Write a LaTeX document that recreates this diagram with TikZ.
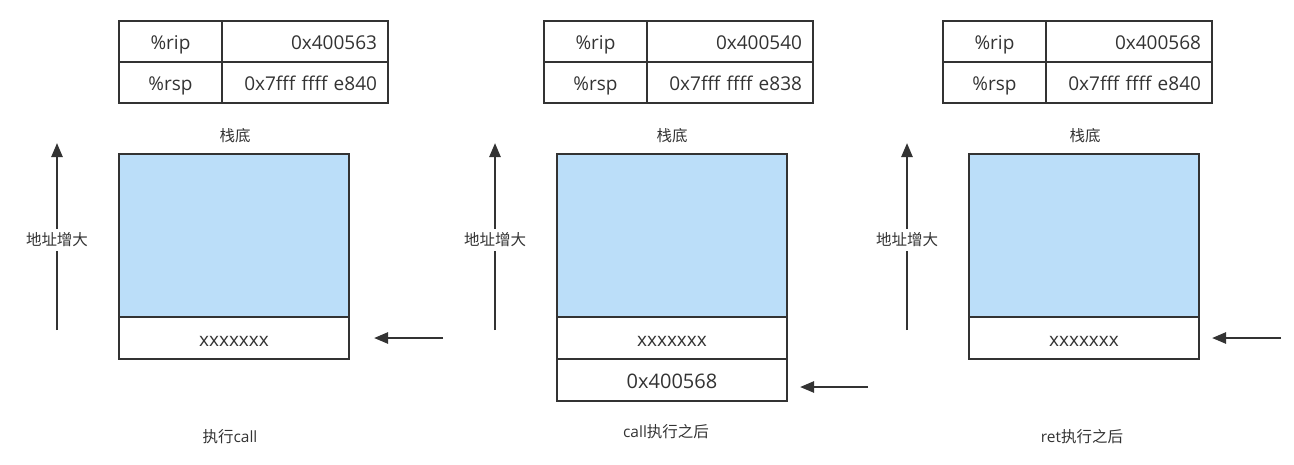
\documentclass[tikz,border=0pt]{standalone}
\usepackage{fontspec}
\setmainfont{Open Sans}
\newfontfamily\cjk{Noto Sans CJK SC}
\usepackage{tikz}
\usetikzlibrary{positioning,arrows.meta}
\definecolor{inkgray}{RGB}{51,51,51}
\definecolor{stackblue}{RGB}{187,222,249}

\tikzset{
  cell/.style={draw=inkgray, line width=2pt, inner sep=0pt, outer sep=0pt, text=inkgray, text height=16.5pt, text depth=0pt, font=\fontsize{19}{22}\selectfont},
  regname/.style={cell, minimum width=103pt, minimum height=41pt, anchor=north west},
  regval/.style={cell, text width=144pt, align=right, inner xsep=11pt, minimum height=41pt, anchor=north west},
  stackbody/.style={cell, fill=stackblue, minimum width=230pt, minimum height=163pt, anchor=north west},
  slot/.style={cell, fill=white, minimum width=230pt, minimum height=42pt},
  lbl/.style={text=inkgray, font=\fontsize{15.5}{18}\selectfont, inner sep=1pt},
  uparrow/.style={draw=inkgray, line width=2.5pt, -{Triangle[length=14pt, width=11pt]}},
  ptr/.style={draw=inkgray, line width=2.5pt, -{Triangle[length=14pt, width=11pt]}}
}

\begin{document}
\begin{tikzpicture}[x=1pt, y=-1pt]
\useasboundingbox (0,0) rectangle (1294,464);

% execute call
\node[regname] (rip1)  at (119,21) {\%rip};
\node[regval]  (ripv1) at (222,21) {0x400563};
\node[regname] (rsp1)  at (119,62) {\%rsp};
\node[regval]  (rspv1) at (222,62) {0x7fff ffff e840};
\node[lbl] (base1) at (235,136) {\cjk 栈底};
\node[stackbody] (stk1) at (119,154) {};
\node[slot, below=0pt of stk1] (old1) {xxxxxxx};
\coordinate (g1s) at (57,330);
\coordinate (g1e) at (57,143);
\draw[uparrow] (g1s) -- (g1e);
\node[lbl, fill=white, inner ysep=4pt] (addr1) at (57,240) {\cjk 地址增大};
\coordinate (p1s) at (443,338);
\coordinate (p1e) at (374,338);
\draw[ptr] (p1s) -- (p1e);
\node[lbl] (cap1) at (230,437) {{\cjk 执行}call};

% after call
\node[regname] (rip2)  at (544,21) {\%rip};
\node[regval]  (ripv2) at (647,21) {0x400540};
\node[regname] (rsp2)  at (544,62) {\%rsp};
\node[regval]  (rspv2) at (647,62) {0x7fff ffff e838};
\node[lbl] (base2) at (672,136) {\cjk 栈底};
\node[stackbody] (stk2) at (557,154) {};
\node[slot, below=0pt of stk2] (old2) {xxxxxxx};
\node[slot, below=0pt of old2, font=\fontsize{20}{23}\selectfont] (ret2) {0x400568};
\coordinate (g2s) at (495,330);
\coordinate (g2e) at (495,143);
\draw[uparrow] (g2s) -- (g2e);
\node[lbl, fill=white, inner ysep=4pt] (addr2) at (495,240) {\cjk 地址增大};
\coordinate (p2s) at (868,387);
\coordinate (p2e) at (800,387);
\draw[ptr] (p2s) -- (p2e);
\node[lbl] (cap2) at (666,432) {call{\cjk 执行之后}};

% after ret
\node[regname] (rip3)  at (943,21) {\%rip};
\node[regval]  (ripv3) at (1046,21) {0x400568};
\node[regname] (rsp3)  at (943,62) {\%rsp};
\node[regval]  (rspv3) at (1046,62) {0x7fff ffff e840};
\node[lbl] (base3) at (1085,136) {\cjk 栈底};
\node[stackbody] (stk3) at (969,154) {};
\node[slot, below=0pt of stk3] (old3) {xxxxxxx};
\coordinate (g3s) at (907,330);
\coordinate (g3e) at (907,143);
\draw[uparrow] (g3s) -- (g3e);
\node[lbl, fill=white, inner ysep=4pt] (addr3) at (907,240) {\cjk 地址增大};
\coordinate (p3s) at (1281,338);
\coordinate (p3e) at (1212,338);
\draw[ptr] (p3s) -- (p3e);
\node[lbl] (cap3) at (1082,437) {ret{\cjk 执行之后}};
\end{tikzpicture}
\end{document}
